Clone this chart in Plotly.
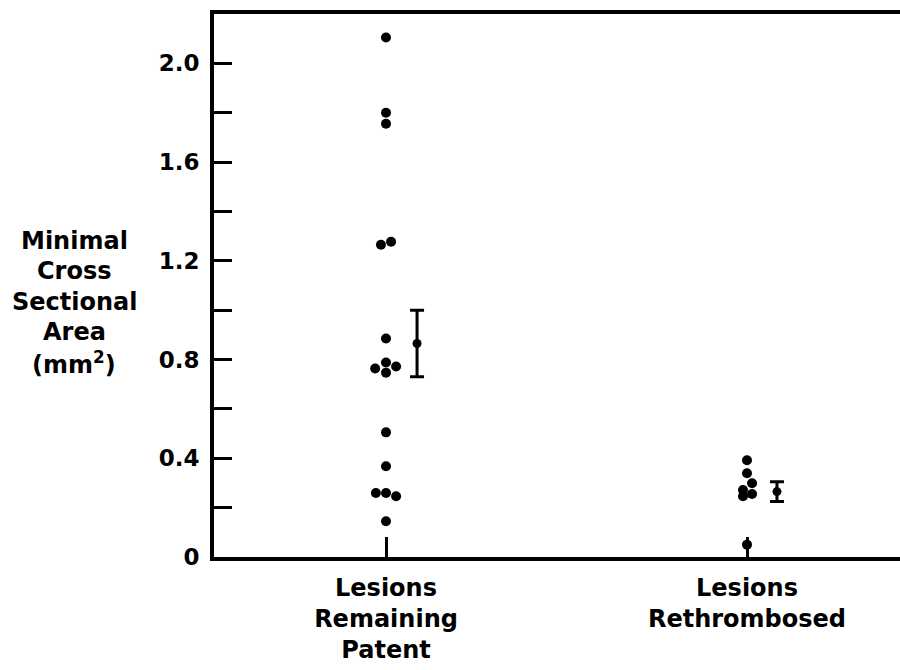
import plotly.graph_objects as go

# Data
categories = ["Lesions<br>Remaining<br>Patent", "Lesions<br>Rethrombosed"]
cat_pos = [1, 2]

patent_values = [2.105, 1.80, 1.755, 1.265, 1.277, 0.885, 0.764, 0.788, 0.747, 0.772,
                 0.505, 0.368, 0.259, 0.259, 0.246, 0.145]
patent_jitter = [0, 0, 0, -0.014, 0.014, 0, -0.03, 0, 0, 0.028,
                 0, 0, -0.028, 0, 0.028, 0]

rethrombosed_values = [0.392, 0.339, 0.299, 0.271, 0.255, 0.246, 0.05]
rethrombosed_jitter = [0, 0, 0.014, -0.011, 0.014, -0.011, 0]

means = [0.865, 0.265]
sems = [0.135, 0.04]
mean_offset = [0.086, 0.083]

y_tickvals = [0, 0.4, 0.8, 1.2, 1.6, 2.0]
y_ticktext = ["0", "0.4", "0.8", "1.2", "1.6", "2.0"]
y_minor = [0.2, 0.6, 1.0, 1.4, 1.8, 2.2]

title_lines = ["Minimal", "Cross", "Sectional", "Area", "(mm<sup>2</sup>)"]

FONT = "DejaVu Sans"

L, T, B = 214, 14, 113
W = 900 - L
H = 670 - T - B

fig = go.Figure()

fig.add_trace(go.Scatter(
    x=[cat_pos[0] + j for j in patent_jitter], y=patent_values,
    mode="markers", marker=dict(color="black", size=10), showlegend=False, cliponaxis=False))
fig.add_trace(go.Scatter(
    x=[cat_pos[1] + j for j in rethrombosed_jitter], y=rethrombosed_values,
    mode="markers", marker=dict(color="black", size=10), showlegend=False, cliponaxis=False))

fig.add_trace(go.Scatter(
    x=[p + o for p, o in zip(cat_pos, mean_offset)], y=means,
    mode="markers", marker=dict(color="black", size=9),
    error_y=dict(type="data", array=sems, visible=True, color="black", thickness=3, width=7),
    showlegend=False, cliponaxis=False))

fig.update_xaxes(
    range=[1 - (386 - L) / 361, 2 + (900 - 747) / 361],
    showline=True, linewidth=4, linecolor="black", mirror=True,
    ticks="inside", ticklen=20, tickwidth=3, tickcolor="black",
    tickvals=cat_pos, ticktext=categories, showgrid=False, zeroline=False,
    tickfont=dict(family=FONT, size=24, color="black", weight="bold"),
    ticklabelstandoff=6,
)
fig.update_yaxes(
    range=[0, 2.2], showline=True, linewidth=4, linecolor="black",
    ticks="inside", ticklen=18, tickwidth=3, tickcolor="black",
    tickmode="array", tickvals=y_tickvals, ticktext=y_ticktext,
    minor=dict(tickmode="array", tickvals=y_minor, ticks="inside", ticklen=18,
               tickwidth=3, tickcolor="black"),
    showgrid=False, zeroline=False,
    tickfont=dict(family=FONT, size=23, color="black", weight="bold"),
    ticklabelstandoff=6,
)

title_y = [241, 271, 302, 332, 363]
for txt, yp in zip(title_lines, title_y):
    fig.add_annotation(
        text=txt, xref="paper", yref="paper", x=(74 - L) / W,
        y=(670 - B - yp) / H, xanchor="center", yanchor="middle", showarrow=False,
        font=dict(family=FONT, size=24, color="black", weight="bold"))

fig.update_layout(
    width=900, height=670,
    margin=dict(l=L, r=0, t=T, b=B),
    plot_bgcolor="white", paper_bgcolor="white",
)

fig.write_html("out.html")
